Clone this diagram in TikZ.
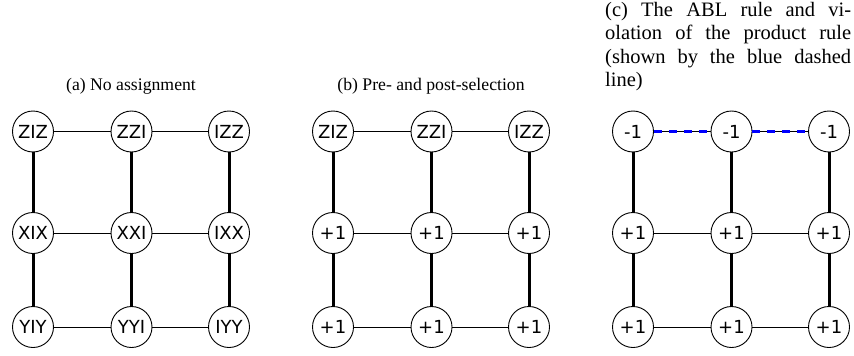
\documentclass[tikz,border=0pt]{standalone}
\usepackage{fontspec}
\setmainfont{Liberation Serif}
\newfontfamily\opfont{DejaVu Sans}
\usepackage{xcolor}
\usepackage{tikz}
\usetikzlibrary{positioning}

\begin{document}
\begin{tikzpicture}[x=1pt,
				y=-1pt,
				op/.style={circle, draw, line width=0.9pt, minimum size=41pt, inner sep=0pt, fill=white, font=\opfont\fontsize{18}{18}\selectfont},
				weak/.style={line width=1pt},
				strong/.style={line width=3pt},
				viol/.style={blue, line width=3.5pt, dash pattern=on 8pt off 7pt},
				capt/.style={inner sep=0pt, anchor=base, font=\fontsize{17.7}{21}\selectfont}]
				\useasboundingbox (0,0) rectangle (854,356);
				% (a) no assignment
				\node at (131,90) (capa) [capt] {(a) No assignment};
				\node at (33,131.5) (a11) [op] {ZIZ};
				\node at (131.5,131.5) (a12) [op] {ZZI};
				\node at (229,131.5) (a13) [op] {IZZ};
				\node at (33,233) (a21) [op] {XIX};
				\node at (131.5,233) (a22) [op] {XXI};
				\node at (229,233) (a23) [op] {IXX};
				\node at (33,327) (a31) [op] {YIY};
				\node at (131.5,327) (a32) [op] {YYI};
				\node at (229,327) (a33) [op] {IYY};
				% (b) pre- and post-selection
				\node at (431,90) (capb) [capt] {(b) Pre- and post-selection};
				\node at (333,131.5) (b11) [op] {ZIZ};
				\node at (431.5,131.5) (b12) [op] {ZZI};
				\node at (529,131.5) (b13) [op] {IZZ};
				\node at (333,233) (b21) [op] {+1};
				\node at (431.5,233) (b22) [op] {+1};
				\node at (529,233) (b23) [op] {+1};
				\node at (333,327) (b31) [op] {+1};
				\node at (431.5,327) (b32) [op] {+1};
				\node at (529,327) (b33) [op] {+1};
				% (c) ABL rule
				\node at (605,1.7) (capc) [inner sep=0pt, anchor=north west, text width=246pt, align=justify, font=\fontsize{20.5}{23.6}\selectfont] {(c) The ABL rule and vi-\linebreak olation of the product rule\linebreak (shown by the blue dashed\linebreak line)};
				\node at (633,131.5) (c11) [op] {-1};
				\node at (731.5,131.5) (c12) [op] {-1};
				\node at (829,131.5) (c13) [op] {-1};
				\node at (633,233) (c21) [op] {+1};
				\node at (731.5,233) (c22) [op] {+1};
				\node at (829,233) (c23) [op] {+1};
				\node at (633,327) (c31) [op] {+1};
				\node at (731.5,327) (c32) [op] {+1};
				\node at (829,327) (c33) [op] {+1};
				\draw[weak] (a11) -- (a12) -- (a13);
				\draw[weak] (a21) -- (a22) -- (a23);
				\draw[weak] (a31) -- (a32) -- (a33);
				\draw[strong] (a11) -- (a21) -- (a31);
				\draw[strong] (a12) -- (a22) -- (a32);
				\draw[strong] (a13) -- (a23) -- (a33);
				\draw[weak] (b11) -- (b12) -- (b13);
				\draw[weak] (b21) -- (b22) -- (b23);
				\draw[weak] (b31) -- (b32) -- (b33);
				\draw[strong] (b11) -- (b21) -- (b31);
				\draw[strong] (b12) -- (b22) -- (b32);
				\draw[strong] (b13) -- (b23) -- (b33);
				\draw[weak] (c11) -- (c12) -- (c13);
				\draw[viol] (c11) -- (c12);
				\draw[viol] (c12) -- (c13);
				\draw[weak] (c21) -- (c22) -- (c23);
				\draw[weak] (c31) -- (c32) -- (c33);
				\draw[strong] (c11) -- (c21) -- (c31);
				\draw[strong] (c12) -- (c22) -- (c32);
				\draw[strong] (c13) -- (c23) -- (c33);
			\end{tikzpicture}
\end{document}
